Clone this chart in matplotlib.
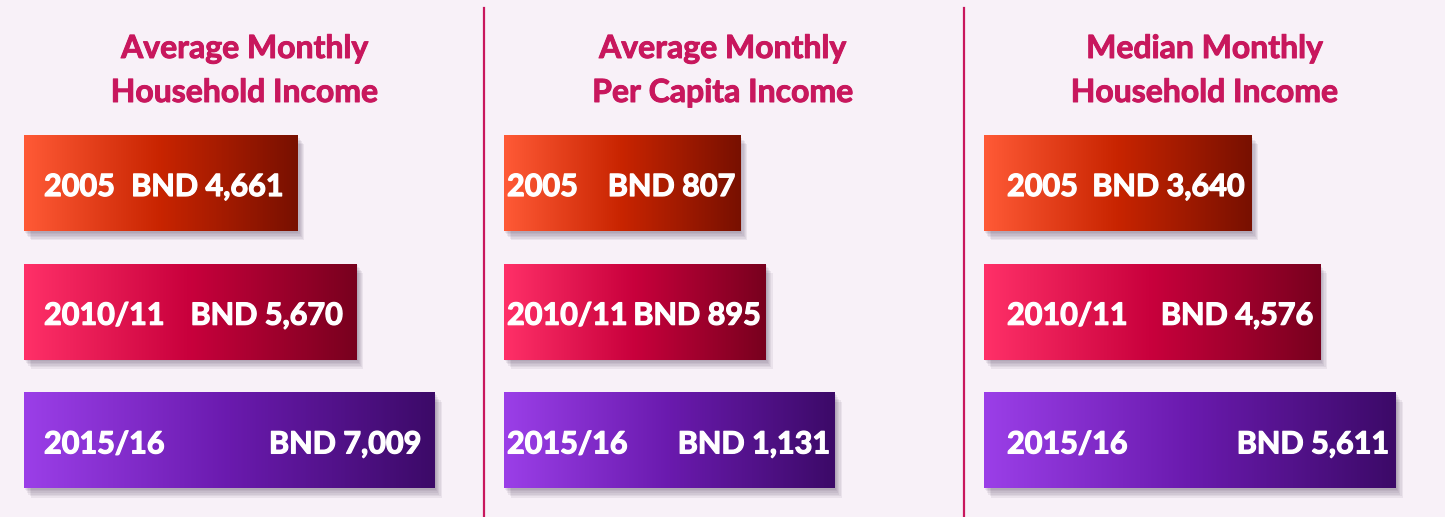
import numpy as np
import matplotlib.pyplot as plt
import matplotlib.patheffects as pe
from matplotlib.colors import LinearSegmentedColormap
from matplotlib.lines import Line2D

# data
titles = ['Average Monthly\nHousehold Income',
          'Average Monthly\nPer Capita Income',
          'Median Monthly\nHousehold Income']
years = ['2005', '2010/11', '2015/16']
avg_household = [4661, 5670, 7009]
avg_per_capita = [807, 895, 1131]
median_household = [3640, 4576, 5611]
panels = [avg_household, avg_per_capita, median_household]

# styling
W, H = 1445, 517
BG = '#f8f1f8'
TITLE_C = '#c8175d'
gradients = [['#ff5a36', '#c82400', '#781000'],
             ['#ff3068', '#c8003c', '#78001e'],
             ['#9b3fe8', '#6a1aae', '#3c0a68']]
panel_left = [24, 504, 984]           # px
max_bar_px = [411, 331, 412]          # px length of the longest bar in each panel
title_cx = [245, 723, 1205]           # px
year_pad = [20, 3, 23]                # px from bar start
value_pad = [14, 5, 7]                # px from bar end
dividers = [484, 964]

plt.rcParams['font.family'] = ['Lato', 'DejaVu Sans']

fig = plt.figure(figsize=(W / 100, H / 100), dpi=100, facecolor=BG)

ax_w = 450
unit = 128.7        # px between bar centres
first_c = 183       # px of first bar centre
bar_h = 96 / unit

# thicken the strokes a bit, the original face is heavier than Lato Bold
bold_white = [pe.withStroke(linewidth=0.9, foreground='white')]
bold_title = [pe.withStroke(linewidth=0.7, foreground=TITLE_C)]

for k, vals in enumerate(panels):
    ax = fig.add_axes([panel_left[k] / W, 0, ax_w / W, 1])
    ax.set_axis_off()
    ax.set_xlim(0, max(vals) * ax_w / max_bar_px[k])
    y = np.arange(len(vals))
    bars = ax.barh(y, vals, height=bar_h, color=[g[-1] for g in gradients], zorder=1)
    for i, b in enumerate(bars):
        shadows = [pe.SimplePatchShadow(offset=(o * 0.8, -o * 1.1), shadow_rgbFace='#3a2a4a',
                                        alpha=0.07) for o in range(1, 7)]
        b.set_path_effects(shadows + [pe.Normal()])
        cmap = LinearSegmentedColormap.from_list('g%d' % i, gradients[i])
        x0, y0 = b.get_x(), b.get_y()
        ax.imshow(np.linspace(0, 1, 256)[None, :], cmap=cmap, aspect='auto',
                  extent=(x0, x0 + b.get_width(), y0 + b.get_height(), y0),
                  zorder=2, interpolation='bicubic')
        ax.annotate(years[i], (0, i), xytext=(year_pad[k], -13), textcoords='offset pixels',
                    ha='left', va='baseline', color='white', fontsize=22,
                    fontweight='bold', zorder=3, path_effects=bold_white)
        ax.annotate(f'BND {vals[i]:,}', (vals[i], i), xytext=(-value_pad[k], -13),
                    textcoords='offset pixels', ha='right', va='baseline', color='white',
                    fontsize=22, fontweight='bold', zorder=3, path_effects=bold_white)
    ax.set_ylim((H - first_c) / unit, -first_c / unit)

    for j, line in enumerate(titles[k].split('\n')):
        fig.text(title_cx[k] / W, 1 - (58 + 44 * j) / H, line, ha='center', va='baseline',
                 color=TITLE_C, fontsize=23, fontweight='bold', path_effects=bold_title)

for xd in dividers:
    fig.add_artist(Line2D([xd / W, xd / W], [0, 1 - 8 / H], color=TITLE_C, lw=1.6))

fig.savefig('out.png', dpi=100, facecolor=BG)
